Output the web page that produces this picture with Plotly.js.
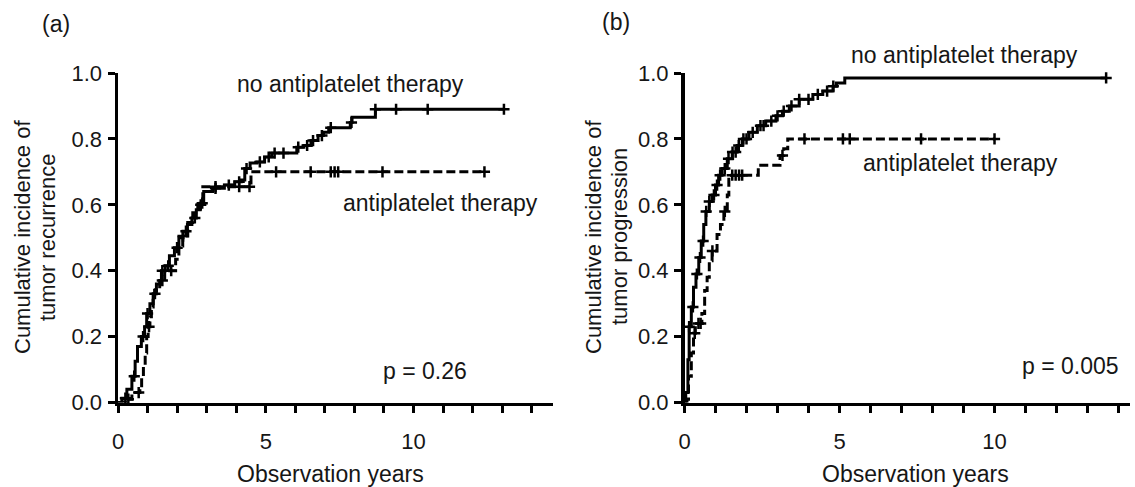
<!DOCTYPE html>
<html>
<head>
<meta charset="utf-8">
<script src="https://cdn.plot.ly/plotly-3.0.1.min.js"></script>
<style>html,body{margin:0;padding:0;background:#fff}#chart{width:1135px;height:487px}</style>
</head>
<body>
<div id="chart"></div>
<script>
// Panel (a): tumor recurrence
const aNoTimes = [0, 0.13, 0.3, 0.47, 0.58, 0.66, 0.79, 0.9, 0.97, 1.08, 1.19, 1.3, 1.47, 1.6, 1.74, 1.91, 2.06, 2.2, 2.35, 2.5, 2.65, 2.78, 2.9, 3.2, 3.6, 3.95, 4.17, 4.29, 4.47, 4.7, 4.96, 5.2, 6.05, 6.29, 6.53, 6.77, 6.95, 7.13, 7.86, 7.92, 8.71, 13.06];
const aNoInc   = [0, 0.013, 0.04, 0.08, 0.125, 0.17, 0.2, 0.23, 0.27, 0.30, 0.33, 0.36, 0.40, 0.415, 0.445, 0.47, 0.50, 0.52, 0.54, 0.56, 0.585, 0.605, 0.64, 0.65, 0.66, 0.67, 0.675, 0.71, 0.727, 0.73, 0.745, 0.757, 0.775, 0.78, 0.795, 0.81, 0.82, 0.834, 0.85, 0.866, 0.89, 0.89];
const aNoCensor = [0.25, 0.55, 0.85, 1.0, 1.25, 1.5, 1.7, 2.0, 2.3, 2.6, 2.85, 3.3, 3.75, 4.1, 4.35, 4.8, 5.1, 5.3, 5.6, 6.1, 6.4, 6.6, 6.9, 7.2, 7.9, 8.71, 9.41, 10.48, 13.06];

const aApTimes = [0, 0.3, 0.47, 0.74, 0.8, 0.86, 0.92, 0.97, 1.02, 1.08, 1.13, 1.19, 1.24, 1.41, 1.58, 1.95, 2.06, 2.19, 2.36, 2.53, 2.7, 2.87, 4.5, 12.4];
const aApInc   = [0, 0.01, 0.03, 0.04, 0.08, 0.11, 0.15, 0.2, 0.23, 0.26, 0.29, 0.32, 0.34, 0.37, 0.40, 0.435, 0.475, 0.505, 0.546, 0.576, 0.60, 0.655, 0.70, 0.70];
const aApCensor = [0.35, 0.7, 1.05, 1.5, 1.8, 2.2, 2.8, 3.3, 4.1, 4.45, 5.35, 6.52, 7.2, 7.33, 7.45, 8.95, 12.4];

// Panel (b): tumor progression
const bNoTimes = [0, 0.04, 0.11, 0.15, 0.22, 0.29, 0.37, 0.46, 0.54, 0.62, 0.69, 0.8, 0.89, 1.0, 1.1, 1.21, 1.38, 1.54, 1.7, 1.86, 2.08, 2.35, 2.62, 2.95, 3.16, 3.38, 3.7, 4.14, 4.46, 4.79, 4.9, 5.17, 13.6];
const bNoInc   = [0, 0.03, 0.13, 0.23, 0.29, 0.35, 0.39, 0.44, 0.49, 0.54, 0.58, 0.61, 0.63, 0.66, 0.69, 0.71, 0.74, 0.76, 0.78, 0.80, 0.82, 0.84, 0.854, 0.87, 0.884, 0.9, 0.92, 0.935, 0.945, 0.96, 0.97, 0.985, 0.985];
const bNoCensor = [0.15, 0.27, 0.4, 0.5, 0.6, 0.7, 0.8, 0.95, 1.05, 1.15, 1.3, 1.42, 1.55, 1.65, 1.75, 1.9, 2.0, 2.2, 2.45, 2.55, 2.8, 3.0, 3.2, 3.45, 3.7, 4.0, 4.3, 4.6, 4.8, 13.6];

const bApTimes = [0, 0.08, 0.13, 0.22, 0.29, 0.35, 0.56, 0.65, 0.73, 0.8, 0.89, 1.05, 1.16, 1.27, 1.38, 1.43, 2.38, 3.08, 3.2, 3.33, 10.0];
const bApInc   = [0, 0.01, 0.08, 0.15, 0.21, 0.24, 0.27, 0.34, 0.38, 0.43, 0.46, 0.51, 0.54, 0.58, 0.63, 0.69, 0.72, 0.75, 0.77, 0.80, 0.80];
const bApCensor = [0.33, 0.45, 0.52, 0.9, 1.3, 1.54, 1.65, 1.76, 1.86, 3.16, 3.87, 5.11, 5.33, 7.63, 10.0];

const yTickVals = [0, 0.2, 0.4, 0.6, 0.8, 1.0];
const xMajorTicks = [0, 5, 10];
const xMinorTicks = [1, 2, 3, 4, 6, 7, 8, 9, 11, 12, 13, 14];

const labels = {
  a: {tag: '(a)', yTitle1: 'Cumulative incidence of', yTitle2: 'tumor recurrence', p: 'p = 0.26'},
  b: {tag: '(b)', yTitle1: 'Cumulative incidence of', yTitle2: 'tumor progression', p: 'p = 0.005'},
  no: 'no antiplatelet therapy', ap: 'antiplatelet therapy', xTitle: 'Observation years'
};

function stepAt(t, times, vals) {
  let v = vals[0];
  for (let i = 0; i < times.length; i++) { if (times[i] <= t + 1e-9) v = vals[i]; }
  return v;
}

const W = 1135, H = 487;
const px = v => v / W, py = v => (H - v) / H;
const LW = 3;
const dashStyle = '9px,4px';

function curve(times, vals, xa, ya, dashed) {
  return {x: times, y: vals, xaxis: xa, yaxis: ya, mode: 'lines', type: 'scatter',
    line: {shape: 'hv', color: '#000', width: LW, dash: dashed ? dashStyle : 'solid'},
    hoverinfo: 'skip', showlegend: false};
}
function censor(ct, times, vals, xa, ya) {
  return {x: ct, y: ct.map(t => stepAt(t, times, vals)), xaxis: xa, yaxis: ya, mode: 'markers', type: 'scatter',
    marker: {symbol: 'cross-thin', size: 8, color: '#000', line: {color: '#000', width: 2.5}},
    cliponaxis: false, hoverinfo: 'skip', showlegend: false};
}

const traces = [
  curve(aNoTimes, aNoInc, 'x', 'y', false),
  censor(aNoCensor, aNoTimes, aNoInc, 'x', 'y'),
  curve(aApTimes, aApInc, 'x', 'y', true),
  censor(aApCensor, aApTimes, aApInc, 'x', 'y'),
  curve(bNoTimes, bNoInc, 'x2', 'y2', false),
  censor(bNoCensor, bNoTimes, bNoInc, 'x2', 'y2'),
  curve(bApTimes, bApInc, 'x2', 'y2', true),
  censor(bApCensor, bApTimes, bApInc, 'x2', 'y2')
];

const FAM = 'Liberation Sans, Arial, sans-serif';
const font = {family: FAM, size: 23, color: '#161616'};
const tickFont = {family: FAM, size: 22, color: '#161616'};
const titleFont = {family: FAM, size: 22, color: '#161616'};
const yDomain = [py(402.5), py(73)];

function xAxis(dom, maxX, anchor) {
  return {domain: dom, range: [0, maxX], anchor: anchor, showline: true, linewidth: 3.5, linecolor: '#000',
    ticks: 'outside', ticklen: 7, tickwidth: 3, tickcolor: '#000', tickvals: xMajorTicks, ticktext: xMajorTicks.map(String),
    minor: {tickvals: xMinorTicks, ticks: 'outside', ticklen: 7, tickwidth: 3, tickcolor: '#000'},
    showgrid: false, zeroline: false, tickfont: tickFont, ticklabelstandoff: 10, fixedrange: true};
}
function yAxis(anchor) {
  return {domain: yDomain, range: [0, 1], anchor: anchor, showline: true, linewidth: 3.5, linecolor: '#000',
    ticks: 'outside', ticklen: 7, tickwidth: 3, tickcolor: '#000', tickvals: yTickVals, tickformat: '.1f',
    showgrid: false, zeroline: false, tickfont: tickFont, ticklabelstandoff: 1, fixedrange: true};
}

function ann(text, x, y, xref, yref, extra) {
  return Object.assign({text: text, x: x, y: y, xref: xref, yref: yref, showarrow: false,
    xanchor: 'center', yanchor: 'middle', font: font}, extra || {});
}

const annotations = [
  ann(labels.a.tag, px(56), py(24), 'paper', 'paper'),
  ann(labels.b.tag, px(616), py(22), 'paper', 'paper'),
  ann(labels.a.yTitle1, px(22), py(237), 'paper', 'paper', {textangle: -90, font: titleFont}),
  ann(labels.a.yTitle2, px(47), py(237), 'paper', 'paper', {textangle: -90, font: titleFont}),
  ann(labels.b.yTitle1, px(593), py(237), 'paper', 'paper', {textangle: -90, font: titleFont}),
  ann(labels.b.yTitle2, px(619), py(237), 'paper', 'paper', {textangle: -90, font: titleFont}),
  ann(labels.xTitle, px(330), py(474), 'paper', 'paper'),
  ann(labels.xTitle, px(915), py(474), 'paper', 'paper'),
  ann(labels.no, 7.88, 0.967, 'x', 'y'),
  ann(labels.ap, 10.9, 0.605, 'x', 'y'),
  ann(labels.a.p, 10.4, 0.097, 'x', 'y'),
  ann(labels.no, px(964), py(55), 'paper', 'paper'),
  ann(labels.ap, 8.9, 0.727, 'x2', 'y2'),
  ann(labels.b.p, 12.45, 0.11, 'x2', 'y2')
];

const layout = {
  width: W, height: H, margin: {l: 0, r: 0, t: 0, b: 0, autoexpand: false},
  paper_bgcolor: '#fff', plot_bgcolor: '#fff', font: font, showlegend: false,
  xaxis: xAxis([px(118), px(553)], 14.72, 'y'),
  yaxis: yAxis('x'),
  xaxis2: xAxis([px(684.5), px(1130)], 14.37, 'y2'),
  yaxis2: yAxis('x2'),
  annotations: annotations
};

Plotly.newPlot('chart', traces, layout, {staticPlot: true, displayModeBar: false});
</script>
</body>
</html>
